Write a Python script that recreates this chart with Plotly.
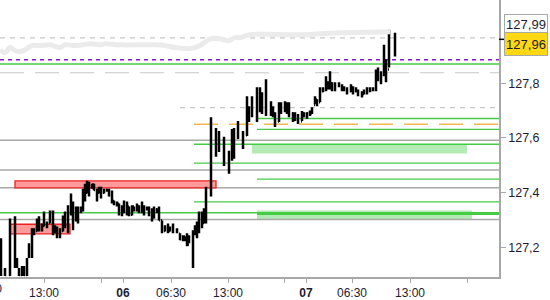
import plotly.graph_objects as go

# ---- bar data (time position, high, low, open, close) ----
t = [1,5,10,15,17,19,22,24,27,29,32,34,37,39,42,44,47,50,53,55,57,60,63,65,68,71,73,76,78,81,83,85,87,89,92,94,97,99,101,104,107,109,112,114,117,119,122,124,127,129,132,134,137,139,142,144,147,149,152,154,157,159,162,165,168,170,173,177,180,183,185,187,189,193,195,197,199,202,204,206,211,216,219,224,229,232,234,238,243,247,249,252,257,260,262,266,271,273,275,279,281,285,287,289,293,295,298,302,304,307,310,312,315,317,320,323,326,328,330,332,335,339,342,344,347,351,353,356,358,362,364,367,370,373,376,378,381,384,386,389,395]
high = [127.234,127.125,127.306,127.314,127.162,127.125,127.133,127.133,127.162,127.216,127.270,127.270,127.306,127.314,127.288,127.332,127.295,127.335,127.335,127.281,127.277,127.270,127.317,127.332,127.354,127.397,127.368,127.350,127.350,127.350,127.415,127.433,127.444,127.440,127.433,127.433,127.415,127.422,127.422,127.415,127.415,127.415,127.408,127.372,127.368,127.361,127.354,127.372,127.368,127.350,127.354,127.350,127.361,127.354,127.368,127.354,127.350,127.350,127.343,127.350,127.343,127.350,127.299,127.281,127.288,127.277,127.288,127.270,127.252,127.245,127.241,127.252,127.245,127.263,127.281,127.295,127.332,127.332,127.343,127.422,127.676,127.636,127.625,127.604,127.553,127.633,127.636,127.662,127.625,127.752,127.716,127.752,127.785,127.785,127.767,127.814,127.734,127.716,127.694,127.730,127.730,127.734,127.730,127.730,127.694,127.694,127.687,127.698,127.694,127.694,127.700,127.712,127.752,127.741,127.785,127.785,127.825,127.807,127.843,127.803,127.803,127.803,127.796,127.789,127.785,127.796,127.789,127.785,127.777,127.770,127.777,127.785,127.785,127.785,127.850,127.857,127.843,127.940,127.886,127.995,127.984]
low = [127.096,127.096,127.096,127.125,127.125,127.096,127.096,127.096,127.096,127.162,127.162,127.245,127.259,127.259,127.259,127.277,127.270,127.288,127.245,127.252,127.234,127.234,127.259,127.270,127.252,127.317,127.263,127.295,127.288,127.325,127.332,127.368,127.397,127.386,127.415,127.408,127.368,127.397,127.379,127.397,127.404,127.386,127.361,127.354,127.350,127.317,127.314,127.325,127.317,127.314,127.317,127.332,127.332,127.325,127.325,127.317,127.335,127.314,127.295,127.306,127.325,127.299,127.252,127.259,127.252,127.259,127.252,127.252,127.227,127.223,127.223,127.205,127.216,127.125,127.245,127.234,127.252,127.270,127.288,127.288,127.386,127.531,127.549,127.498,127.469,127.517,127.524,127.596,127.560,127.607,127.658,127.676,127.658,127.694,127.687,127.680,127.680,127.676,127.640,127.658,127.687,127.694,127.687,127.676,127.658,127.662,127.651,127.662,127.676,127.669,127.680,127.687,127.723,127.716,127.730,127.767,127.770,127.777,127.777,127.770,127.770,127.785,127.770,127.770,127.759,127.767,127.759,127.767,127.752,127.748,127.759,127.759,127.767,127.770,127.770,127.807,127.796,127.825,127.803,127.857,127.897]
open_ = [127.20,127.12,127.10,127.29,127.15,127.12,127.10,127.12,127.10,127.17,127.20,127.25,127.26,127.29,127.27,127.28,127.29,127.29,127.32,127.26,127.27,127.24,127.26,127.30,127.28,127.34,127.36,127.30,127.33,127.33,127.34,127.40,127.40,127.43,127.42,127.43,127.41,127.40,127.41,127.40,127.41,127.41,127.39,127.37,127.36,127.36,127.33,127.35,127.33,127.35,127.32,127.35,127.34,127.35,127.33,127.35,127.34,127.34,127.32,127.31,127.34,127.33,127.30,127.26,127.27,127.26,127.27,127.26,127.25,127.23,127.24,127.23,127.21,127.23,127.25,127.27,127.28,127.31,127.29,127.33,127.40,127.62,127.56,127.60,127.51,127.53,127.60,127.60,127.62,127.61,127.70,127.69,127.70,127.77,127.71,127.72,127.69,127.71,127.69,127.66,127.72,127.70,127.72,127.70,127.69,127.67,127.68,127.66,127.69,127.68,127.69,127.69,127.72,127.74,127.73,127.77,127.78,127.80,127.79,127.80,127.78,127.79,127.79,127.78,127.78,127.77,127.78,127.77,127.77,127.76,127.76,127.77,127.78,127.78,127.78,127.84,127.82,127.83,127.88,127.85,127.97]
close = [127.11,127.10,127.29,127.14,127.13,127.10,127.12,127.10,127.15,127.20,127.25,127.26,127.29,127.27,127.28,127.31,127.28,127.32,127.26,127.27,127.24,127.26,127.30,127.28,127.34,127.38,127.30,127.33,127.30,127.34,127.40,127.38,127.43,127.40,127.43,127.41,127.38,127.41,127.39,127.41,127.41,127.39,127.37,127.36,127.36,127.33,127.35,127.33,127.36,127.32,127.35,127.34,127.35,127.33,127.36,127.33,127.34,127.32,127.31,127.34,127.33,127.30,127.26,127.27,127.26,127.27,127.26,127.26,127.23,127.24,127.23,127.21,127.23,127.24,127.27,127.28,127.32,127.29,127.33,127.40,127.62,127.56,127.60,127.51,127.53,127.62,127.55,127.64,127.58,127.74,127.68,127.74,127.77,127.71,127.74,127.69,127.72,127.69,127.66,127.72,127.70,127.72,127.70,127.69,127.67,127.68,127.66,127.69,127.68,127.69,127.69,127.70,127.74,127.73,127.77,127.78,127.81,127.79,127.80,127.78,127.79,127.79,127.78,127.78,127.77,127.78,127.77,127.78,127.76,127.76,127.77,127.78,127.78,127.78,127.84,127.82,127.83,127.90,127.84,127.97,127.96]

# ---- smoothed grey line ----
ma_t = [0,5,10,15,20,25,32,40,50,60,65,75,90,100,105,120,155,165,175,190,200,210,220,228,235,240,250,300,340,390]
ma_v = [127.922,127.911,127.930,127.919,127.915,127.922,127.937,127.937,127.940,127.930,127.940,127.937,127.944,127.940,127.944,127.940,127.940,127.937,127.930,127.926,127.937,127.962,127.962,127.955,127.966,127.966,127.977,127.977,127.984,127.988]

# ---- horizontal levels: (value, start, colour, width, dash) ----
level_val   = [127.965, 127.885, 127.870, 127.838, 127.711, 127.671, 127.650, 127.631, 127.5915, 127.577, 127.508, 127.483, 127.450, 127.418, 127.367, 127.327, 127.323, 127.302]
level_start = [0, 0, 0, 0, 180, 257, 194, 257, 0, 194, 194, 0, 257, 0, 194, 0, 257, 0]
level_col   = ['#c8c8c8', '#8a10c8', '#44cc44', '#c8c8c8', '#c8c8c8', '#44cc44', '#f2b850', '#44cc44', '#a8a8a8', '#44cc44', '#44cc44', '#a8a8a8', '#44cc44', '#a8a8a8', '#44cc44', '#44cc44', '#44cc44', '#a8a8a8']
level_w     = [1.2, 1.5, 1.5, 1.2, 1.2, 1.3, 1.3, 1.3, 1.5, 1.3, 1.3, 1.5, 1.3, 1.5, 1.3, 1.3, 2.5, 1.5]
level_dash  = ['5px,5px', '4px,4px', 'solid', '24px,11px', '5px,5px', 'solid', '24px,11px', 'solid', 'solid', 'solid', 'solid', 'solid', 'solid', 'solid', 'solid', 'solid', 'solid', 'solid']

# ---- zones: (t0, t1, v_low, v_high) ----
green_zones = [(252, 467, 127.543, 127.578), (257, 472, 127.304, 127.335)]
red_zones = [(15, 216, 127.418, 127.443), (10, 70, 127.250, 127.285)]

tick_pos = [44, 101, 123, 171, 228, 284, 306, 352, 410, 467]
tick_txt = ['13:00', '', '<b>06</b>', '06:30', '13:00', '', '<b>07</b>', '06:30', '13:00', '']
y_ticks = [127.2, 127.4, 127.6, 127.8]
y_txt = ['127,2', '127,4', '127,6', '127,8']
high_label = 127.99
last_label = 127.96

X_MAX = 499
FONT = 'Liberation Sans, Arial, sans-serif'
TXT = '#1c1c34'

fig = go.Figure()
fig.add_trace(go.Scatter(x=ma_t, y=ma_v, mode='lines', line=dict(color='#ebebeb', width=5, shape='spline'),
                         hoverinfo='skip', showlegend=False))
fig.add_trace(go.Ohlc(x=t, open=open_, high=high, low=low, close=close,
                      increasing_line_color='black', decreasing_line_color='black',
                      line_width=2.5, tickwidth=0.45, showlegend=False))

shapes = []
for (a, b, lo, hi) in green_zones:
    shapes.append(dict(type='rect', xref='x', yref='y', x0=a, x1=b, y0=lo, y1=hi,
                       fillcolor='#b4eab4', line=dict(width=0), layer='below'))
for v, s, c, w, d in zip(level_val, level_start, level_col, level_w, level_dash):
    shapes.append(dict(type='line', xref='x', yref='y', x0=s, x1=X_MAX, y0=v, y1=v,
                       line=dict(color=c, width=w, dash=d), layer='below'))
for (a, b, lo, hi) in red_zones:
    shapes.append(dict(type='rect', xref='x', yref='y', x0=a, x1=b, y0=lo, y1=hi,
                       fillcolor='#ff9a9a', line=dict(color='#ee2020', width=1.3), layer='below'))
# marker tick for the last price on the axis
shapes.append(dict(type='line', xref='paper', yref='y', x0=1.0, x1=1.011, y0=last_label, y1=last_label,
                   line=dict(color='black', width=1.5)))

annotations = [
    dict(xref='paper', yref='y', x=1.0, y=high_label, xanchor='left', yanchor='middle', xshift=5, yshift=7,
         text=f'{high_label:.2f}'.replace('.', ','), showarrow=False,
         font=dict(family=FONT, size=13, color=TXT), bgcolor='white', bordercolor='#a8a8a8',
         borderwidth=1, borderpad=1, width=40, height=16),
    dict(xref='paper', yref='y', x=1.0, y=last_label, xanchor='left', yanchor='middle', xshift=5, yshift=-5,
         text=f'{last_label:.2f}'.replace('.', ','), showarrow=False,
         font=dict(family=FONT, size=13, color=TXT), bgcolor='#ffd814', bordercolor='#a8a8a8',
         borderwidth=1, borderpad=1, width=40, height=20),
    dict(xref='paper', yref='paper', x=-0.026, y=-0.043, xanchor='center', yanchor='middle',
         text='06:30', showarrow=False, font=dict(family=FONT, size=12, color=TXT)),
]

fig.update_layout(
    width=550, height=300, margin=dict(l=0, r=51, t=0, b=21),
    paper_bgcolor='white', plot_bgcolor='white', showlegend=False,
    shapes=shapes, annotations=annotations,
    xaxis=dict(range=[0, X_MAX], tickmode='array', tickvals=tick_pos, ticktext=tick_txt,
               showgrid=False, zeroline=False, showline=True, linecolor='#a8a8a8', linewidth=1.5,
               ticks='outside', ticklen=4, tickcolor='#a8a8a8',
               tickfont=dict(family=FONT, size=12, color=TXT), rangeslider=dict(visible=False),
               fixedrange=True),
    yaxis=dict(range=[127.0925, 128.1035], side='right', tickmode='array', tickvals=y_ticks, ticktext=y_txt,
               showgrid=False, zeroline=False, showline=True, linecolor='#a8a8a8', linewidth=1.5,
               ticks='outside', ticklen=5, tickcolor='#a8a8a8',
               tickfont=dict(family=FONT, size=12.5, color=TXT), fixedrange=True),
)

fig.write_html('out.html')
